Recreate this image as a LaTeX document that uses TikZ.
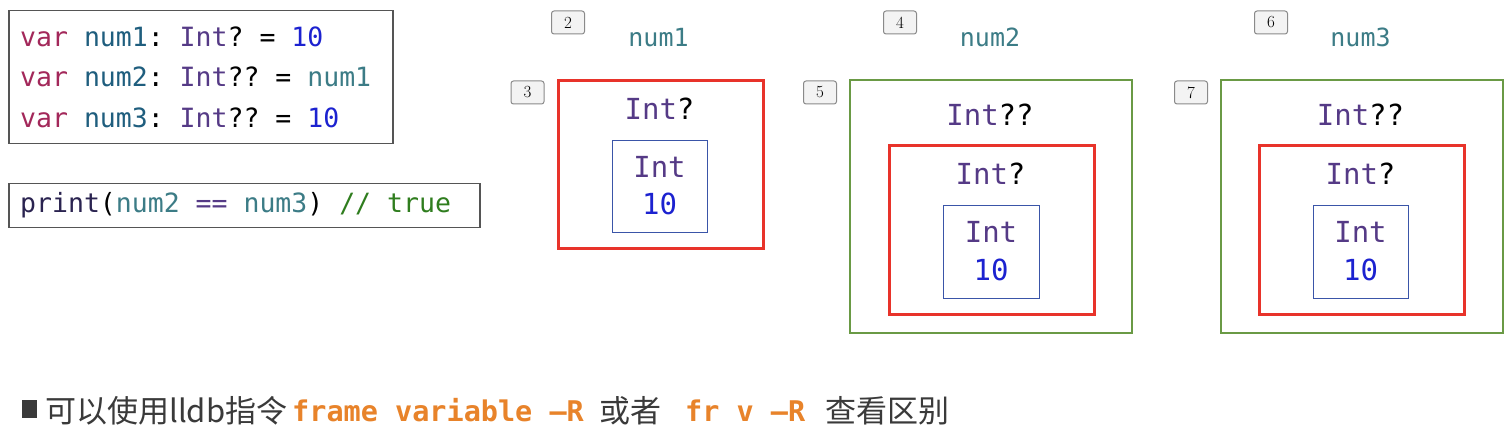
\documentclass[tikz,border=0pt]{standalone}
\usepackage{fontspec}
\setmonofont{DejaVu Sans Mono}
\newfontfamily\cjk{Noto Sans CJK SC}
\definecolor{kwvar}{HTML}{A3285A}
\definecolor{declname}{HTML}{1F5E7E}
\definecolor{typec}{HTML}{553A86}
\definecolor{numc}{HTML}{1C22D0}
\definecolor{refname}{HTML}{3C7C86}
\definecolor{printc}{HTML}{2A2350}
\definecolor{commentc}{HTML}{2F7D1E}
\definecolor{codeborder}{HTML}{555555}
\definecolor{tagdraw}{HTML}{8A8A8A}
\definecolor{tagfill}{HTML}{F3F3F3}
\definecolor{redbox}{HTML}{E8332A}
\definecolor{greenbox}{HTML}{6A9A45}
\definecolor{bluebox}{HTML}{3A55A8}
\definecolor{bodytext}{HTML}{3A3A3A}
\definecolor{orangec}{HTML}{E8832A}
\begin{document}
\begin{tikzpicture}[x=1pt,y=-1pt,
  codebox/.style={draw=codeborder, line width=1.5pt, anchor=north west, inner sep=0pt},
  codetext/.style={anchor=base west, inner sep=0pt, font=\ttfamily\fontsize{26.5}{26.5}\selectfont},
  tag/.style={draw=tagdraw, fill=tagfill, rounded corners=2.5pt, line width=1pt, minimum width=33pt, minimum height=23pt, inner sep=0pt, font=\fontsize{17}{17}\selectfont},
  varlabel/.style={anchor=base, inner sep=0pt, text=refname, font=\ttfamily\fontsize{25}{25}\selectfont},
  redrect/.style={draw=redbox, line width=2.8pt, anchor=north west, inner sep=0pt},
  greenrect/.style={draw=greenbox, line width=2.4pt, anchor=north west, inner sep=0pt},
  bluerect/.style={draw=bluebox, line width=1.2pt, anchor=north west, inner sep=0pt},
  boxtext/.style={anchor=base, inner sep=0pt, font=\ttfamily\fontsize{29}{29}\selectfont},
  cjktext/.style={anchor=base west, inner sep=0pt, text=bodytext, font=\cjk\fontsize{31}{31}\selectfont},
  cmdtext/.style={anchor=base west, inner sep=0pt, text=orangec, font=\ttfamily\bfseries\fontsize{28.5}{28.5}\selectfont}
]
\useasboundingbox[fill=white] (0,0) rectangle (1512,438);

% code boxes
\node[codebox, minimum width=384pt, minimum height=133pt] (code1) at (8,10) {};
\node[codebox, minimum width=471pt, minimum height=44pt] (code2) at (8,183) {};
\node[codetext] (l1) at (20,47) {\textcolor{kwvar}{var} \textcolor{declname}{num1}: \textcolor{typec}{Int}? = \textcolor{numc}{10}};
\node[codetext] (l2) at (20,87) {\textcolor{kwvar}{var} \textcolor{declname}{num2}: \textcolor{typec}{Int}?? = \textcolor{refname}{num1}};
\node[codetext] (l3) at (20,128) {\textcolor{kwvar}{var} \textcolor{declname}{num3}: \textcolor{typec}{Int}?? = \textcolor{numc}{10}};
\node[codetext] (l4) at (20,213) {\textcolor{printc}{print}(\textcolor{refname}{num2} \textcolor{typec}{==} \textcolor{refname}{num3}) \textcolor{commentc}{// true}};

% tags
\node[tag] (t2) at (568,22.5) {2};
\node[tag] (t3) at (527.5,92.5) {3};
\node[tag] (t4) at (900,22.5) {4};
\node[tag] (t5) at (820,92.5) {5};
\node[tag] (t6) at (1271,22.5) {6};
\node[tag] (t7) at (1191,92.5) {7};

% labels
\node[varlabel] (n1) at (658.5,47) {num1};
\node[varlabel] (n2) at (990,47) {num2};
\node[varlabel] (n3) at (1360.5,47) {num3};

% num1 box
\node[redrect, minimum width=205pt, minimum height=168pt] (r1) at (557,79) {};
\node[bluerect, minimum width=95pt, minimum height=92pt] (b1) at (612,140) {};
\node[boxtext] (r1t) at (659.5,120) {\textcolor{typec}{Int}?};
\node[boxtext] (b1t) at (659.5,178) {\textcolor{typec}{Int}};
\node[boxtext] (b1v) at (659.5,215) {\textcolor{numc}{10}};

% num2 box
\node[greenrect, minimum width=282pt, minimum height=253pt] (g2) at (849,79) {};
\node[redrect, minimum width=205pt, minimum height=169pt] (r2) at (888,144) {};
\node[bluerect, minimum width=96pt, minimum height=93pt] (b2) at (943,205) {};
\node[boxtext] (g2t) at (990,126) {\textcolor{typec}{Int}??};
\node[boxtext] (r2t) at (990.5,185) {\textcolor{typec}{Int}?};
\node[boxtext] (b2t) at (991,243) {\textcolor{typec}{Int}};
\node[boxtext] (b2v) at (991,280) {\textcolor{numc}{10}};

% num3 box
\node[greenrect, minimum width=282pt, minimum height=253pt] (g3) at (1220,79) {};
\node[redrect, minimum width=205pt, minimum height=169pt] (r3) at (1258,144) {};
\node[bluerect, minimum width=95pt, minimum height=93pt] (b3) at (1313,205) {};
\node[boxtext] (g3t) at (1360.5,126) {\textcolor{typec}{Int}??};
\node[boxtext] (r3t) at (1360.5,185) {\textcolor{typec}{Int}?};
\node[boxtext] (b3t) at (1360.5,243) {\textcolor{typec}{Int}};
\node[boxtext] (b3v) at (1360.5,280) {\textcolor{numc}{10}};

% bottom sentence
\node[fill=bodytext, anchor=north west, minimum width=15pt, minimum height=18pt, inner sep=0pt] (bullet) at (22,400) {};
\node[cjktext] (s1) at (45,422) {可以使用lldb指令};
\node[cmdtext] (s2) at (292,421) {frame variable –R};
\node[cjktext] (s3) at (599,422) {或者};
\node[cmdtext] (s4) at (685,421) {fr v –R};
\node[cjktext] (s5) at (825,422) {查看区别};
\end{tikzpicture}
\end{document}
